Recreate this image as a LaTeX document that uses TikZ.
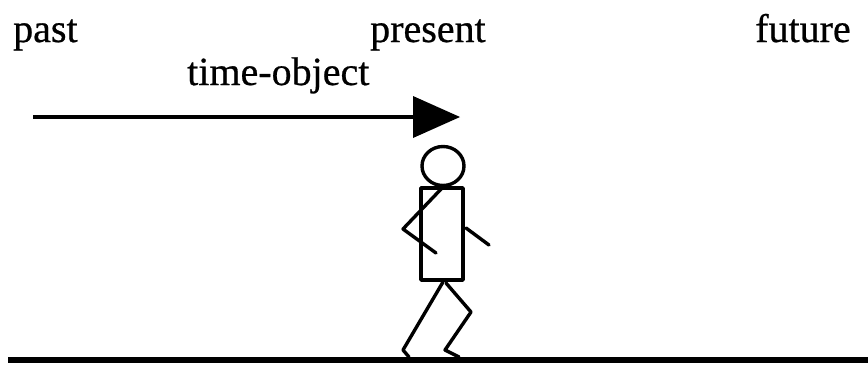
\documentclass[tikz,border=0pt]{standalone}
\usepackage{fontspec}
\setmainfont[FakeBold=0.6]{Liberation Serif}
\begin{document}
\begin{tikzpicture}[x=1pt,y=-1pt,
  label/.style={inner sep=0pt,anchor=base west,font=\fontsize{40}{48}\selectfont},
  limb/.style={line width=3.4pt,line cap=round,line join=round}]
\useasboundingbox (0,0) rectangle (868,367);
% time labels
\node[label] (past) at (13,42) {past};
\node[label] (present) at (370,42) {present};
\node[label] (future) at (755,42) {future};
\node[label] (tobj) at (187,85) {time-object};
% arrow of the moving time-object
\coordinate (astart) at (33,117);
\coordinate (abase) at (414,117);
\coordinate (atip) at (460,117);
\draw[line width=3.2pt] (astart) -- (abase);
\fill (413,96) -- (atip) -- (413,138) -- cycle;
% ground
\draw[line width=6pt] (8,360) -- (868,360);
% walking figure
\draw[limb] (443,166) ellipse [x radius=21,y radius=19.5];
\draw[limb] (421,188) rectangle (463,280);
\draw[limb] (443,187) -- (403,229) -- (436,253);
\draw[limb] (466,228) -- (489,245);
\draw[limb] (443,282) -- (403,350) -- (409,357);
\draw[limb] (446,283) -- (471,312) -- (445,350) -- (459,357);
\end{tikzpicture}
\end{document}
